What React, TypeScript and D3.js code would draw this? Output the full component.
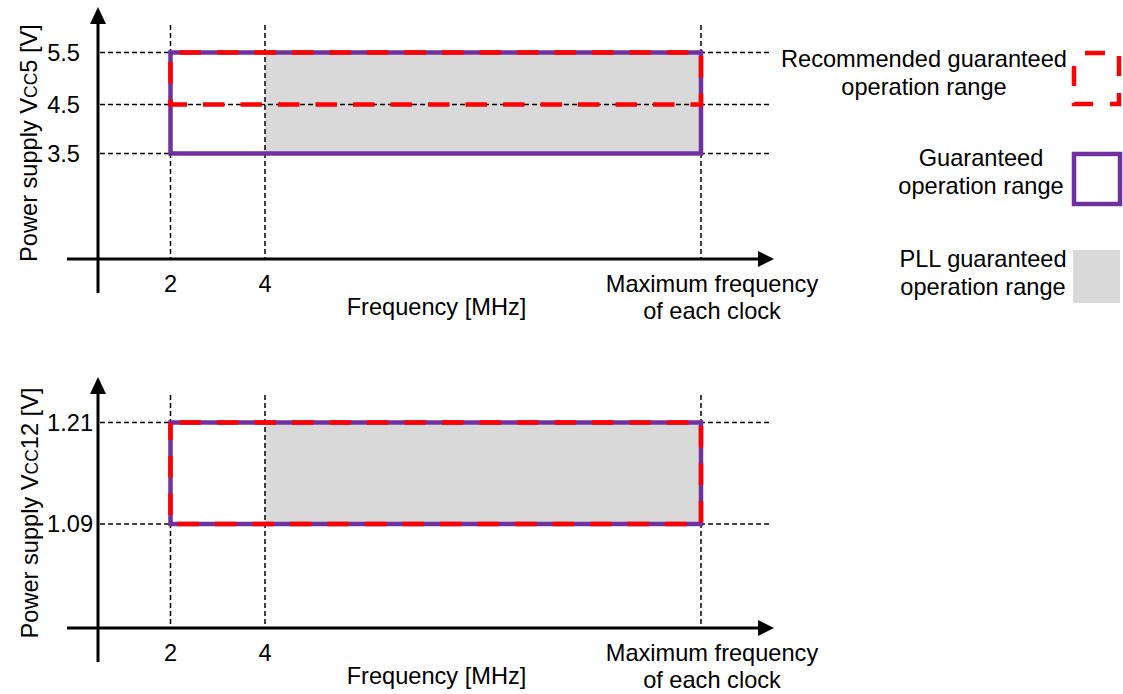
import React from "react";
import * as d3 from "d3";

// ---- data ----
const FMAX = 10; // schematic stand-in for "Maximum frequency of each clock"
const freqTicks = [2, 4];
const freqTickLabels = ["2", "4"];
const maxFreqLabel = ["Maximum frequency", "of each clock"];
const xTitle = "Frequency [MHz]";

const vcc5Ticks = [3.5, 4.5, 5.5];
const vcc5TickLabels = ["3.5", "4.5", "5.5"];
const vcc12Ticks = [1.09, 1.21];
const vcc12TickLabels = ["1.09", "1.21"];

// ranges: [fMin, fMax, vMin, vMax]
const guaranteed5 = [2, FMAX, 3.5, 5.5];
const recommended5 = [2, FMAX, 4.5, 5.5];
const pll5 = [4, FMAX, 3.5, 5.5];
const guaranteed12 = [2, FMAX, 1.09, 1.21];
const recommended12 = [2, FMAX, 1.09, 1.21];
const pll12 = [4, FMAX, 1.09, 1.21];

const legendLabels = [
  ["Recommended guaranteed", "operation range"],
  ["Guaranteed", "operation range"],
  ["PLL guaranteed", "operation range"],
];

// ---- style ----
const PURPLE = "#7030a0";
const RED = "#ff0000";
const GRAY = "#d9d9d9";
const FONT = "'Liberation Sans', Arial, sans-serif";
const FS = 23.6;

const xScale = d3
  .scaleLinear()
  .domain([0, 2, 4, FMAX])
  .range([98, 170.5, 265, 701]);

type PanelProps = {
  yScale: d3.ScaleLinear<number, number>;
  axisY: number;
  yTop: number;
  ticks: number[];
  tickLabels: string[];
  tickRight: number;
  titleSub: string;
  titleCenter: number;
  titleX: number;
  guaranteed: number[];
  recommended: number[];
  pll: number[];
  xLabelBase: number;
};

function rectPath(r: number[], y: d3.ScaleLinear<number, number>) {
  const x0 = xScale(r[0]);
  const x1 = xScale(r[1]);
  const y0 = y(r[3]);
  const y1 = y(r[2]);
  const p = d3.path();
  p.moveTo(x0, y0);
  p.lineTo(x1, y0);
  p.lineTo(x1, y1);
  p.lineTo(x0, y1);
  p.closePath();
  return p.toString();
}

function Panel(props: PanelProps) {
  const {
    yScale, axisY, yTop, ticks, tickLabels, tickRight, titleSub, titleCenter,
    titleX, guaranteed, recommended, pll, xLabelBase,
  } = props;
  const axisX = xScale(0);
  const xEnd = 772;
  const gridEnd = 772;
  const vLines = [...freqTicks, FMAX];
  return (
    <g>
      <rect
        x={xScale(pll[0])}
        y={yScale(pll[3])}
        width={xScale(pll[1]) - xScale(pll[0])}
        height={yScale(pll[2]) - yScale(pll[3])}
        fill={GRAY}
      />
      {ticks.map((t) => (
        <line
          key={"h" + t}
          x1={axisX + 2}
          x2={gridEnd}
          y1={yScale(t)}
          y2={yScale(t)}
          stroke="#000"
          strokeWidth={1.5}
          strokeDasharray="5 3"
        />
      ))}
      {vLines.map((f) => (
        <line
          key={"v" + f}
          x1={xScale(f)}
          x2={xScale(f)}
          y1={yTop + 18}
          y2={axisY}
          stroke="#000"
          strokeWidth={1.5}
          strokeDasharray="5 3"
        />
      ))}
      <path d={rectPath(guaranteed, yScale)} fill="none" stroke={PURPLE} strokeWidth={4.5} />
      <path
        d={rectPath(recommended, yScale)}
        fill="none"
        stroke={RED}
        strokeWidth={4.5}
        strokeDasharray="21.5 16"
        strokeDashoffset={28.5}
      />
      <line x1={axisX} x2={axisX} y1={yTop + 14} y2={axisY + 34} stroke="#000" strokeWidth={3} />
      <path d={`M${axisX},${yTop} L${axisX - 8},${yTop + 17} L${axisX + 8},${yTop + 17} Z`} fill="#000" />
      <line x1={67} x2={xEnd - 12} y1={axisY} y2={axisY} stroke="#000" strokeWidth={3} />
      <path d={`M${xEnd + 2},${axisY} L${xEnd - 14},${axisY - 8} L${xEnd - 14},${axisY + 8} Z`} fill="#000" />
      {ticks.map((t, i) => (
        <text
          key={"yl" + t}
          x={tickRight}
          y={yScale(t) + 8}
          textAnchor="end"
          fontSize={FS}
          fontFamily={FONT}
        >
          {tickLabels[i]}
        </text>
      ))}
      {freqTicks.map((f, i) => (
        <text
          key={"xl" + f}
          x={xScale(f)}
          y={axisY + 33}
          textAnchor="middle"
          fontSize={FS}
          fontFamily={FONT}
        >
          {freqTickLabels[i]}
        </text>
      ))}
      {maxFreqLabel.map((s, i) => (
        <text
          key={"mf" + i}
          x={xScale(FMAX) + 11}
          y={axisY + 33 + i * 27}
          textAnchor="middle"
          fontSize={FS}
          fontFamily={FONT}
        >
          {s}
        </text>
      ))}
      <text x={436.5} y={xLabelBase} textAnchor="middle" fontSize={FS} fontFamily={FONT}>
        {xTitle}
      </text>
      <text
        transform={`translate(${titleX},${titleCenter}) rotate(-90)`}
        textAnchor="middle"
        fontSize={FS}
        fontFamily={FONT}
      >
        Power supply V<tspan fontSize={17.5}>CC</tspan>
        {titleSub} [V]
      </text>
    </g>
  );
}

export default function App() {
  const y5 = d3.scaleLinear().domain([0, 3.5, 4.5, 5.5]).range([259, 153.5, 104.5, 52.5]);
  const y12 = d3.scaleLinear().domain([0, 1.09, 1.21]).range([628, 524, 422.5]);

  const legendItems = [
    { cx: 924, base: 67, box: [1074, 53, 45, 51] },
    { cx: 981, base: 166, box: [1074, 154, 46, 50] },
    { cx: 983, base: 267, box: [1073, 250, 47, 53] },
  ];

  return (
    <svg
      width={1123}
      height={694}
      style={{ position: "absolute", left: 0, top: 0, background: "#fff" }}
    >
      <Panel
        yScale={y5}
        axisY={259}
        yTop={7}
        ticks={vcc5Ticks}
        tickLabels={vcc5TickLabels}
        tickRight={80}
        titleSub="5"
        titleCenter={143}
        titleX={37}
        guaranteed={guaranteed5}
        recommended={recommended5}
        pll={pll5}
        xLabelBase={315}
      />
      <Panel
        yScale={y12}
        axisY={628}
        yTop={377}
        ticks={vcc12Ticks}
        tickLabels={vcc12TickLabels}
        tickRight={93}
        titleSub="12"
        titleCenter={513}
        titleX={38}
        guaranteed={guaranteed12}
        recommended={recommended12}
        pll={pll12}
        xLabelBase={684}
      />
      {legendItems.map((it, i) => (
        <g key={"lg" + i}>
          {legendLabels[i].map((s, j) => (
            <text
              key={j}
              x={it.cx}
              y={it.base + j * 28}
              textAnchor="middle"
              fontSize={FS}
              fontFamily={FONT}
            >
              {s}
            </text>
          ))}
        </g>
      ))}
      <rect
        x={legendItems[0].box[0]}
        y={legendItems[0].box[1]}
        width={legendItems[0].box[2]}
        height={legendItems[0].box[3]}
        fill="none"
        stroke={RED}
        strokeWidth={4.5}
        strokeDasharray="20 17"
        strokeDashoffset={26}
      />
      <rect
        x={legendItems[1].box[0]}
        y={legendItems[1].box[1]}
        width={legendItems[1].box[2]}
        height={legendItems[1].box[3]}
        fill="none"
        stroke={PURPLE}
        strokeWidth={4.5}
      />
      <rect
        x={legendItems[2].box[0]}
        y={legendItems[2].box[1]}
        width={legendItems[2].box[2]}
        height={legendItems[2].box[3]}
        fill={GRAY}
      />
    </svg>
  );
}
